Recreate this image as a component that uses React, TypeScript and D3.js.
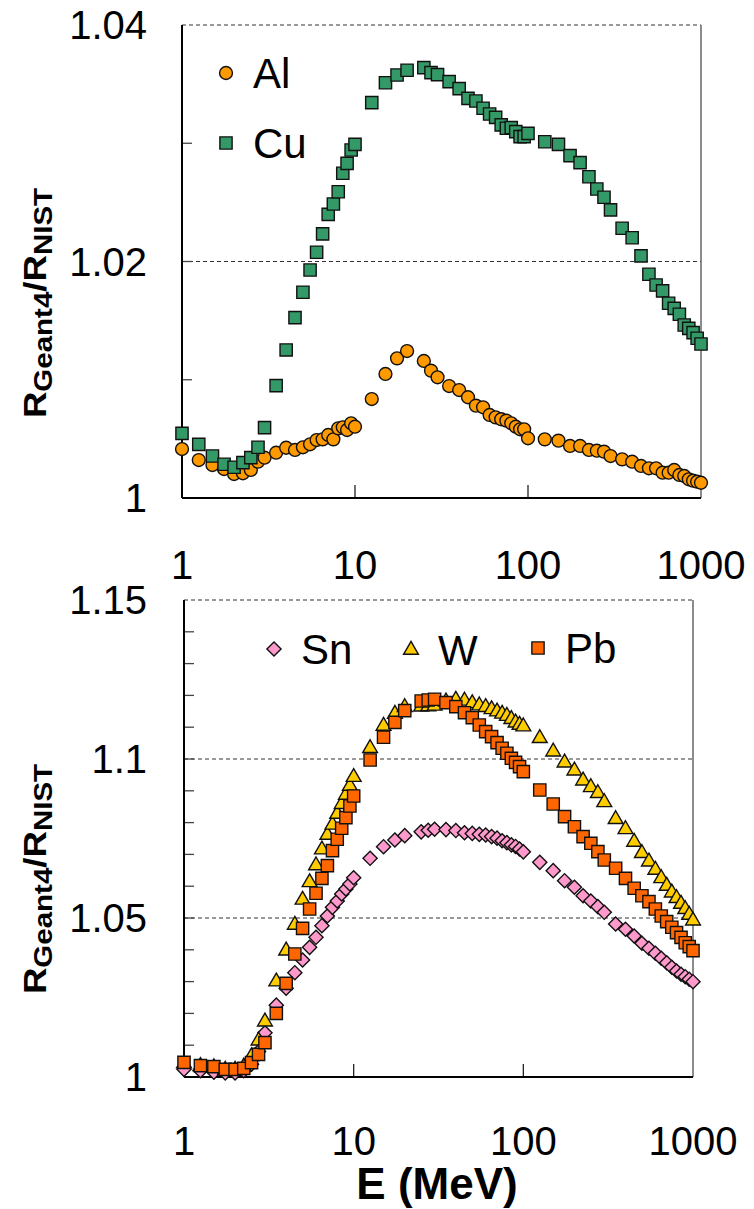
import React from "react";
import * as d3 from "d3";

// Energy grid (MeV)
const energies = [1,1.25,1.5,1.75,2,2.25,2.5,2.75,3,3.5,4,4.5,5,5.5,6,6.5,7,7.5,8,8.5,9,9.5,10,12.5,15,17.5,20,25,27.5,30,35,40,45,50,55,60,65,70,75,80,85,90,95,100,125,150,175,200,225,250,275,300,350,400,450,500,550,600,650,700,750,800,850,900,950,1000];

const alValues = [1.00414,1.00321,1.00279,1.00245,1.00203,1.00209,1.00237,1.00307,1.00341,1.00383,1.00425,1.00406,1.00429,1.00454,1.0049,1.00496,1.00533,1.00496,1.00589,1.00598,1.00575,1.00632,1.00603,1.00837,1.01049,1.01181,1.01243,1.01159,1.01077,1.01021,1.00947,1.00913,1.00852,1.00781,1.00767,1.00702,1.00682,1.00666,1.00654,1.00632,1.00603,1.00581,1.00581,1.00505,1.00496,1.00485,1.0044,1.0044,1.00406,1.004,1.00392,1.00355,1.00327,1.00307,1.00271,1.00251,1.00251,1.00214,1.00214,1.00237,1.00195,1.00186,1.00158,1.00146,1.00138,1.00129];

const cuValues = [1.00547,1.00454,1.00355,1.00285,1.0026,1.00299,1.00341,1.00429,1.00595,1.0095,1.01252,1.01525,1.0174,1.01928,1.02078,1.02233,1.02399,1.02486,1.0259,1.02746,1.0283,1.02943,1.02991,1.03343,1.03512,1.03577,1.03617,1.03639,1.03597,1.0358,1.03521,1.03462,1.0338,1.03357,1.03296,1.03247,1.03219,1.03155,1.03127,1.03132,1.03098,1.03056,1.03056,1.03084,1.03013,1.02991,1.02895,1.02836,1.02717,1.02613,1.02543,1.02436,1.02281,1.02201,1.02047,1.01892,1.01801,1.01751,1.01647,1.01604,1.01554,1.01463,1.01435,1.01398,1.01351,1.01302];

const snValues = [1.0024,1.002,1.0015,1.0013,1.0013,1.002,1.004,1.008,1.0139,1.0226,1.0279,1.0328,1.0368,1.04078,1.04393,1.04758,1.05063,1.05336,1.05535,1.05755,1.05912,1.06069,1.06267,1.06877,1.07242,1.07453,1.0759,1.0771,1.0776,1.0779,1.0778,1.0775,1.0768,1.0766,1.0763,1.0761,1.0756,1.0751,1.0743,1.0737,1.073,1.0725,1.0717,1.0708,1.06751,1.06488,1.06173,1.05966,1.05701,1.05535,1.05356,1.05179,1.04811,1.04645,1.04434,1.04205,1.04047,1.0389,1.03733,1.03594,1.0345,1.03333,1.0323,1.03154,1.03072,1.02997];

const wValues = [1.0042,1.0034,1.003,1.0022,1.0022,1.0032,1.0065,1.0114,1.0174,1.03,1.0397,1.0478,1.0557,1.0612,1.0665,1.0715,1.0761,1.0793,1.0827,1.0858,1.0887,1.0915,1.0943,1.10337,1.11038,1.11415,1.11626,1.11645,1.1165,1.1167,1.118,1.1186,1.1183,1.1175,1.1168,1.1163,1.1156,1.1149,1.1142,1.1135,1.1125,1.1114,1.1107,1.1102,1.10651,1.1023,1.09884,1.09632,1.09318,1.0911,1.08922,1.08638,1.08104,1.07789,1.0739,1.07035,1.06771,1.0651,1.06248,1.06006,1.05796,1.0562,1.0544,1.05274,1.05094,1.04915];

const pbValues = [1.00462,1.00356,1.00325,1.0024,1.0024,1.00273,1.0045,1.00713,1.01079,1.02,1.02946,1.03868,1.04676,1.05283,1.05777,1.06248,1.06645,1.07117,1.07475,1.07821,1.08155,1.08522,1.08837,1.09969,1.10683,1.11154,1.11519,1.11824,1.11855,1.11878,1.11771,1.11645,1.11456,1.11299,1.11069,1.10859,1.10702,1.10513,1.10337,1.1018,1.10022,1.09896,1.09758,1.09601,1.09025,1.08585,1.08186,1.07871,1.07557,1.07349,1.07085,1.06824,1.06563,1.06248,1.05934,1.05701,1.05513,1.05283,1.05063,1.04884,1.04708,1.04538,1.04393,1.04223,1.04098,1.03972];

const xTickValues = [1, 10, 100, 1000];
const xTickLabels = ["1", "10", "100", "1000"];
const topYTicks = [1, 1.02, 1.04];
const topYLabels = ["1", "1.02", "1.04"];
const topMinor = [1.01, 1.02, 1.03];
const topGrid = [1.02, 1.04];
const botYTicks = [1, 1.05, 1.1, 1.15];
const botYLabels = ["1", "1.05", "1.1", "1.15"];
const botMinor = [1.01,1.02,1.03,1.04,1.05,1.06,1.07,1.08,1.09,1.1,1.11,1.12,1.13,1.14];
const botGrid = [1.05, 1.1, 1.15];

const FONT = "'Liberation Sans', Arial, Helvetica, sans-serif";

type Shape = "circle" | "square" | "diamond" | "triangle";

function markerPath(shape: Shape): string {
  if (shape === "circle") return d3.symbol(d3.symbolCircle, 130)() as string;
  if (shape === "square") return d3.symbol(d3.symbolSquare, 150)() as string;
  if (shape === "diamond") return d3.symbol(d3.symbolSquare, 100)() as string;
  return d3.symbol(d3.symbolTriangle, 95)() as string;
}

function Marker({ x, y, shape, fill }: { x: number; y: number; shape: Shape; fill: string }) {
  const rot = shape === "diamond" ? " rotate(45)" : "";
  return (
    <path
      d={markerPath(shape)}
      transform={`translate(${x},${y})${rot}`}
      fill={fill}
      stroke="#111"
      strokeWidth={1.4}
    />
  );
}

type Series = { name: string; values: number[]; shape: Shape; fill: string; lx: number; ly: number };

function Panel({
  x0, x1, y0, y1, yDomain, yTicks, yLabels, minor, grid, series, xLabelY, titleCY,
}: {
  x0: number; x1: number; y0: number; y1: number; yDomain: [number, number];
  yTicks: number[]; yLabels: string[]; minor: number[]; grid: number[];
  series: Series[]; xLabelY: number; titleCY: number;
}) {
  const xs = d3.scaleLog().domain([1, 1000]).range([x0, x1]);
  const ys = d3.scaleLinear().domain(yDomain).range([y1, y0]);
  return (
    <g>
      {grid.map((g) => (
        <line key={"g" + g} x1={x0} x2={x1} y1={ys(g)} y2={ys(g)} stroke="#333" strokeWidth={1} strokeDasharray="4,3" />
      ))}
      <line x1={x1} x2={x1} y1={y0} y2={y1} stroke="#666" strokeWidth={1.5} />
      {minor.map((m) => (
        <line key={"m" + m} x1={x0} x2={x0 + 10} y1={ys(m)} y2={ys(m)} stroke="#444" strokeWidth={1.3} />
      ))}
      {[10, 100].map((t) => (
        <line key={"xt" + t} x1={xs(t)} x2={xs(t)} y1={y1} y2={y1 - 13} stroke="#222" strokeWidth={1.3} />
      ))}
      <line x1={x0} x2={x0} y1={y0} y2={y1} stroke="#000" strokeWidth={2} />
      <line x1={x0} x2={x1} y1={y1} y2={y1} stroke="#000" strokeWidth={2} />
      {series.map((s) => (
        <g key={s.name}>
          {energies.map((e, i) => (
            <Marker key={i} x={xs(e)} y={ys(s.values[i])} shape={s.shape} fill={s.fill} />
          ))}
        </g>
      ))}
      {series.map((s) => (
        <g key={"l" + s.name}>
          <Marker x={s.lx} y={s.ly} shape={s.shape} fill={s.fill} />
          <text x={s.lx + 27} y={s.ly + 15} fontFamily={FONT} fontSize={42} fill="#000">{s.name}</text>
        </g>
      ))}
      {yTicks.map((t, i) => (
        <text key={"yl" + t} x={147} y={ys(t)} dy="0.36em" textAnchor="end" fontFamily={FONT} fontSize={40}>{yLabels[i]}</text>
      ))}
      {xTickValues.map((t, i) => (
        <text key={"xl" + t} x={xs(t)} y={xLabelY} textAnchor="middle" fontFamily={FONT} fontSize={40}>{xTickLabels[i]}</text>
      ))}
      <text
        transform={`translate(46,${titleCY}) rotate(-90) scale(1.18,1)`}
        textAnchor="middle"
        fontFamily={FONT}
        fontWeight="bold"
        fontSize={31}
      >
        R<tspan fontSize={25} dy={6}>Geant4</tspan>
        <tspan dy={-6}>/R</tspan>
        <tspan fontSize={25} dy={6}>NIST</tspan>
      </text>
    </g>
  );
}

export default function App() {
  const topSeries: Series[] = [
    { name: "Al", values: alValues, shape: "circle", fill: "#FF9900", lx: 226, ly: 73 },
    { name: "Cu", values: cuValues, shape: "square", fill: "#339966", lx: 226, ly: 143 },
  ];
  const botSeries: Series[] = [
    { name: "Sn", values: snValues, shape: "diamond", fill: "#FF99CC", lx: 274, ly: 649 },
    { name: "W", values: wValues, shape: "triangle", fill: "#FFCC00", lx: 411, ly: 650 },
    { name: "Pb", values: pbValues, shape: "square", fill: "#FF6600", lx: 538, ly: 648 },
  ];
  return (
    <div style={{ position: "absolute", left: 0, top: 0 }}>
      <svg width={754} height={1209} style={{ display: "block", background: "#fff" }}>
        <Panel x0={182} x1={701} y0={25} y1={498} yDomain={[1, 1.04]} yTicks={topYTicks} yLabels={topYLabels}
          minor={topMinor} grid={topGrid} series={topSeries} xLabelY={579} titleCY={303} />
        <Panel x0={184} x1={693} y0={600} y1={1077} yDomain={[1, 1.15]} yTicks={botYTicks} yLabels={botYLabels}
          minor={botMinor} grid={botGrid} series={botSeries} xLabelY={1155} titleCY={879} />
        <text x={437} y={1199} textAnchor="middle" fontFamily={FONT} fontWeight="bold" fontSize={44}>E (MeV)</text>
      </svg>
    </div>
  );
}
